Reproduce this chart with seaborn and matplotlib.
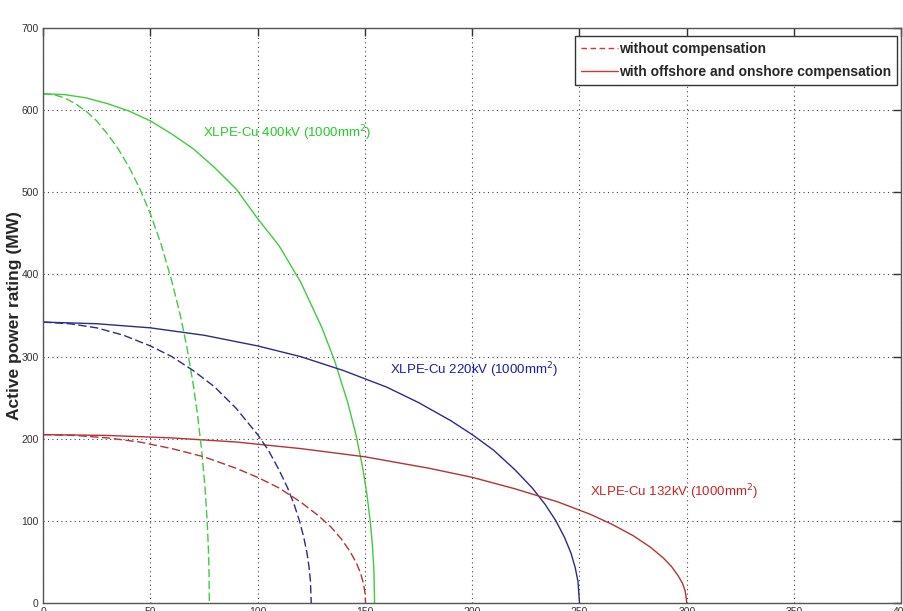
import matplotlib
matplotlib.use("Agg")
import matplotlib.pyplot as plt
import seaborn as sns
from matplotlib.lines import Line2D

# --- DATA (cable length in km vs. power in MW) ---
L_400_comp = [0, 10, 20, 30, 40, 50, 60, 70, 80, 90, 100, 110, 120, 130, 136, 142, 146, 149, 151,
              152.5, 153.5, 154.2, 154.5]
P_400_comp = [620, 619, 615, 608, 599, 587, 571, 553, 530, 504, 468, 435, 391, 335, 294, 244, 203,
              164, 131, 99, 70, 39, 0]
L_400_none = [0, 5, 10, 15, 20, 25, 30, 35, 40, 45, 50, 55, 60, 64, 67, 70, 72, 74, 75.5, 76.5,
              77.1, 77.35, 77.5]
P_400_none = [620, 619, 615, 608, 599, 587, 571, 553, 531, 505, 474, 437, 392, 350, 312, 266, 229,
              184, 140, 99, 63, 39, 0]

L_220_comp = [0, 25, 50, 75, 100, 120, 140, 160, 175, 190, 200, 210, 220, 228, 234, 239, 243, 246,
              248, 249.3, 250]
P_220_comp = [342, 340, 335, 326, 313, 300, 283, 263, 244, 222, 205, 186, 162, 140, 120, 100, 80,
              61, 43, 26, 0]
L_220_none = [0, 12.5, 25, 37.5, 50, 60, 70, 80, 90, 100, 105, 110, 114, 117, 119.5, 121.5, 123,
              124, 124.6, 125]
P_220_none = [342, 340, 335, 326, 313, 300, 283, 263, 237, 205, 186, 162, 140, 120, 100, 80, 61,
              43, 27, 0]

L_132_comp = [0, 30, 60, 90, 120, 150, 180, 200, 220, 240, 255, 265, 275, 283, 289, 293, 296, 298,
              299.3, 300]
P_132_comp = [205, 204, 201, 196, 188, 178, 164, 153, 139, 123, 108, 96, 82, 68, 55, 44, 33, 24,
              14, 0]
L_132_none = [0, 15, 30, 45, 60, 75, 90, 100, 110, 120, 128, 134, 139, 143, 146, 148, 149.3, 150,
              150.3]
P_132_none = [205, 204, 201, 196, 188, 178, 164, 153, 140, 123, 107, 93, 78, 63, 49, 36, 24, 13, 0]

LABELS = ["XLPE-Cu 400kV (1000mm$^2$)", "XLPE-Cu 220kV (1000mm$^2$)", "XLPE-Cu 132kV (1000mm$^2$)"]
LEGEND = ["without compensation", "with offshore and onshore compensation"]
X_TICKS = list(range(0, 401, 50))
Y_TICKS = list(range(0, 701, 100))

GREEN, BLUE, RED = "#3ecc3e", "#2b2b8a", "#b83232"
DASH = (6, 2.5)


def make_plot():
    sns.set_style("white")
    plt.rcParams["font.family"] = ["Liberation Sans", "DejaVu Sans"]
    plt.rcParams["mathtext.fontset"] = "custom"

    fig = plt.figure(figsize=(9.04, 6.11), dpi=100)
    ax = fig.add_axes([0.0476, 0.0131, 0.9495, 0.941])

    # solid = with compensation, dashed = without
    for L, P, c in [(L_400_comp, P_400_comp, GREEN), (L_220_comp, P_220_comp, BLUE),
                    (L_132_comp, P_132_comp, RED)]:
        sns.lineplot(x=L, y=P, ax=ax, color=c, lw=1.0, sort=False, estimator=None)
    for L, P, c in [(L_400_none, P_400_none, GREEN), (L_220_none, P_220_none, BLUE),
                    (L_132_none, P_132_none, RED)]:
        sns.lineplot(x=L, y=P, ax=ax, color=c, lw=1.0, sort=False, estimator=None,
                     linestyle=(0, DASH))

    ax.set_xlim(0, 400)
    ax.set_ylim(0, 700)
    ax.set_xticks(X_TICKS)
    ax.set_yticks(Y_TICKS)
    ax.tick_params(direction="in", length=6, width=1, top=True, right=True,
                   labelsize=7.5, colors="#333333", pad=3)
    ax.grid(True, linestyle=(0, (1, 3)), color="#444444", lw=0.8)
    for s in ax.spines.values():
        s.set_color("#555555")
        s.set_linewidth(1.0)

    ax.set_ylabel("Active power rating (MW)", fontsize=12.5, fontweight="bold")
    ax.yaxis.set_label_coords(-0.0245, 0.5)
    ax.set_xlabel("")

    ax.text(74.6, 572, LABELS[0], color="#22cc22", va="center", fontsize=9.5)
    ax.text(161.7, 283.5, LABELS[1], color="#1c1ca8", va="center", fontsize=9.5)
    ax.text(255, 135, LABELS[2], color="#cc2222", va="center", fontsize=9.5)

    handles = [Line2D([], [], color="#dd3333", lw=1.0, linestyle=(0, (4, 2.5))),
               Line2D([], [], color="#dd3333", lw=1.0)]
    leg = ax.legend(handles, LEGEND, loc="upper right", bbox_to_anchor=(0.9953, 0.986),
                    fancybox=False, framealpha=1, edgecolor="#333333", handlelength=2.6,
                    handletextpad=0.1, borderpad=0.45, labelspacing=0.6, borderaxespad=0,
                    prop={"size": 10, "weight": "bold"})
    leg.get_frame().set_linewidth(1.0)

    fig.savefig("out.png", dpi=100)


if __name__ == "__main__":
    make_plot()
